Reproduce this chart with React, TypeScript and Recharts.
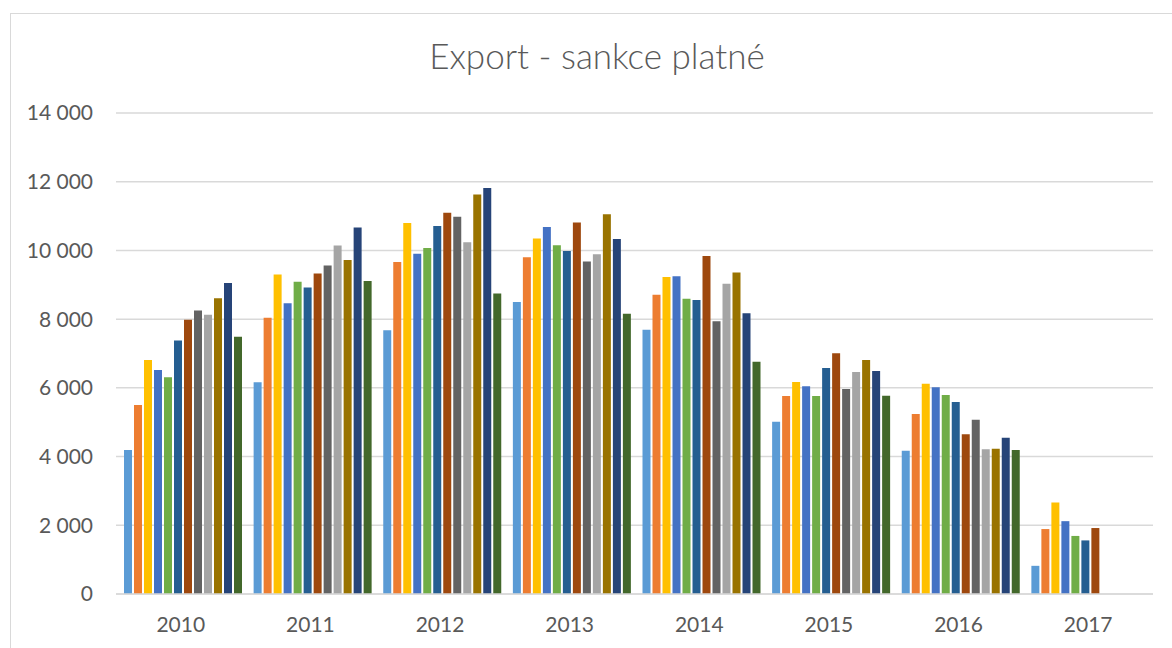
import React from 'react';
import { BarChart, Bar, XAxis, YAxis, CartesianGrid } from 'recharts';

const years = ['2010', '2011', '2012', '2013', '2014', '2015', '2016', '2017'];

const months = [
  'leden', 'únor', 'březen', 'duben', 'květen', 'červen',
  'červenec', 'srpen', 'září', 'říjen', 'listopad', 'prosinec',
];

// one array per year, January..December
const v2010 = [4190, 5500, 6810, 6520, 6310, 7380, 7980, 8250, 8130, 8610, 9050, 7490];
const v2011 = [6160, 8040, 9300, 8460, 9090, 8920, 9330, 9560, 10140, 9720, 10670, 9110];
const v2012 = [7680, 9660, 10800, 9900, 10070, 10710, 11100, 10980, 10240, 11630, 11820, 8750];
const v2013 = [8500, 9800, 10350, 10680, 10150, 9980, 10810, 9680, 9890, 11050, 10330, 8160];
const v2014 = [7690, 8710, 9230, 9250, 8590, 8560, 9840, 7940, 9030, 9360, 8170, 6760];
const v2015 = [5010, 5760, 6170, 6050, 5760, 6580, 7010, 5970, 6460, 6810, 6490, 5770];
const v2016 = [4170, 5240, 6120, 6020, 5790, 5590, 4650, 5070, 4210, 4230, 4550, 4190];
const v2017 = [820, 1890, 2660, 2120, 1690, 1560, 1920];

const yearValues = [v2010, v2011, v2012, v2013, v2014, v2015, v2016, v2017];

const yTicks = [0, 2000, 4000, 6000, 8000, 10000, 12000, 14000];

const colors = [
  '#5B9BD5', '#ED7D31', '#FFC000', '#4472C4', '#70AD47', '#255E91',
  '#9E480E', '#636363', '#A5A5A5', '#997300', '#264478', '#43682B',
];

const data = years.map((year, i) => {
  const row: Record<string, string | number | null> = { year };
  months.forEach((m, j) => {
    row[m] = yearValues[i][j] ?? null;
  });
  return row;
});

const fmt = (v: number) => v.toLocaleString('en-US').replace(/,/g, ' ');

const font = 'Lato, "Open Sans", sans-serif';

export default function App() {
  return (
    <div style={{ position: 'absolute', left: 0, top: 0, width: 1172, height: 648, overflow: 'hidden', background: '#fff' }}>
      <div
        style={{
          position: 'absolute',
          left: 10,
          top: 13,
          width: 1172,
          height: 660,
          border: '1px solid #d9d9d9',
          background: '#fff',
          fontFamily: font,
        }}
      >
        <div
          style={{
            position: 'absolute',
            left: 0,
            top: 19,
            width: 1172,
            textAlign: 'center',
            fontSize: 35,
            fontWeight: 300,
            color: '#595959',
            lineHeight: '44px',
          }}
        >
          Export - sankce platné
        </div>
        <BarChart
          width={1172}
          height={640}
          data={data}
          margin={{ top: 99, right: 30, bottom: 20, left: 0 }}
          barCategoryGap={8}
          barGap={2}
        >
          <CartesianGrid vertical={false} stroke='#d9d9d9' strokeWidth={1.5} />
          <XAxis
            dataKey='year'
            height={40}
            tickLine={false}
            axisLine={{ stroke: '#d9d9d9', strokeWidth: 1.5 }}
            tickMargin={17}
            tick={{ fill: '#595959', fontSize: 21, fontFamily: font }}
          />
          <YAxis
            width={105}
            domain={[0, 14000]}
            ticks={yTicks}
            tickFormatter={fmt}
            tickLine={false}
            axisLine={false}
            tickMargin={17}
            tick={{ fill: '#595959', fontSize: 21, fontFamily: font }}
          />
          {months.map((m, j) => (
            <Bar key={m} dataKey={m} fill={colors[j]} isAnimationActive={false} />
          ))}
        </BarChart>
      </div>
    </div>
  );
}
